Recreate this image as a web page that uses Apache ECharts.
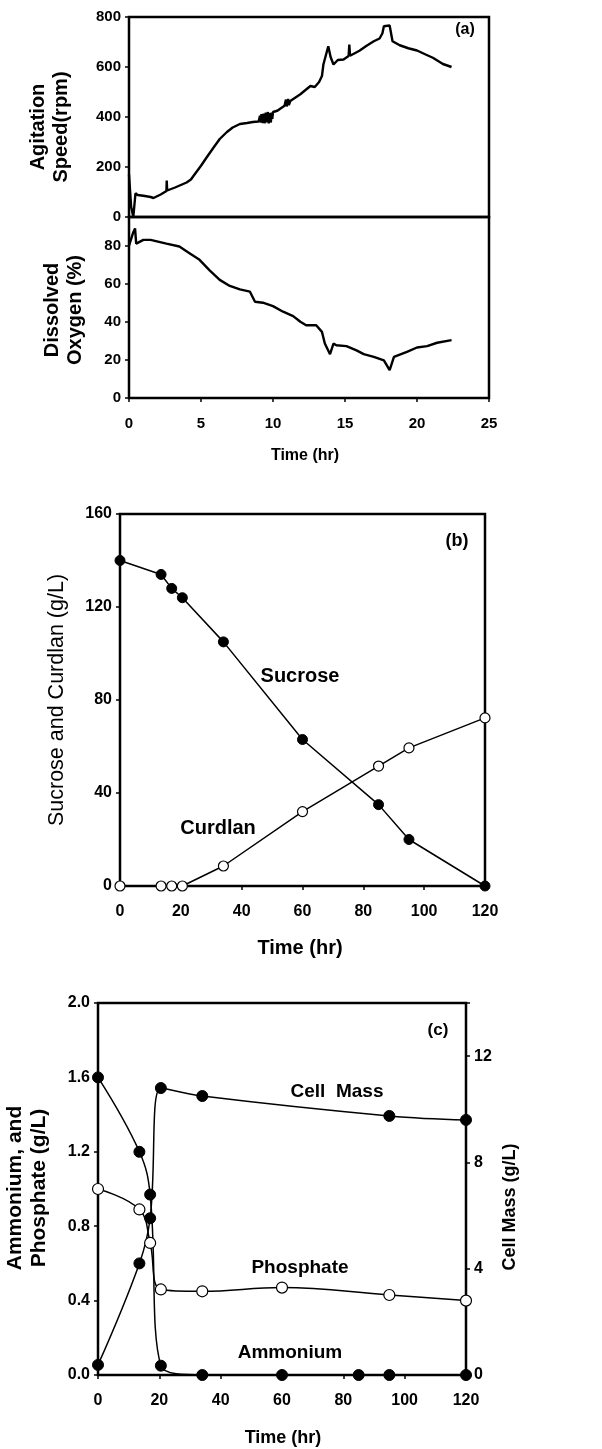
<!DOCTYPE html>
<html>
<head>
<meta charset="utf-8">
<script src="https://cdn.jsdelivr.net/npm/echarts@6/dist/echarts.min.js"></script>
<style>
  html, body { margin: 0; padding: 0; background: #fff; }
  #main { width: 602px; height: 1449px; }
</style>
</head>
<body>
<div id="main"></div>
<script>
// ---- panel (a): agitation speed and dissolved oxygen traces ----
var agiTime = [0, 0.15, 0.3, 0.4, 0.45, 0.6, 1.0, 1.5, 1.7, 2.2, 2.6, 2.62, 2.65, 3.2, 4.0, 4.3, 4.5, 5.0, 5.4, 5.9,
  6.3, 6.8, 7.2, 7.7, 8.2, 8.6, 9.0, 9.1, 9.15, 9.2, 9.3, 9.35, 9.45, 9.5, 9.55, 9.65, 9.7, 9.75, 9.85, 9.9,
  9.95, 10.0, 10.3, 10.8, 10.9, 10.95, 11.05, 11.1, 11.2, 11.9,
  12.3, 12.6, 12.9, 13.2, 13.4, 13.5, 13.84, 14.0, 14.2, 14.5, 14.9, 15.25, 15.3, 15.35, 16.0, 16.5, 17.0, 17.4,
  17.6, 17.7, 18.1, 18.3, 18.8, 19.4, 20.0, 20.6, 21.1, 21.8, 22.4];
var agiRpm = [170, 40, 0, 0, 95, 88, 85, 80, 76, 90, 104, 146, 106, 118, 138, 150, 166, 205, 239, 280,
  312, 340, 358, 372, 376, 380, 382, 405, 378, 412, 376, 414, 375, 418, 380, 420, 374, 416, 378, 418,
  392, 420, 425, 445, 470, 442, 472, 448, 464, 491,
  510, 524, 520, 540, 564, 610, 683, 640, 610, 628, 630, 644, 690, 645, 665, 685, 703, 714,
  735, 763, 766, 703, 687, 675, 666, 650, 637, 612, 600];

var doTime = [0, 0.05, 0.3, 0.42, 0.5, 1.0, 1.5, 2.6, 3.5, 4.2, 4.9, 5.6, 6.3, 7.0, 7.7, 8.4, 8.75, 9.3, 10.0,
  10.7, 11.4, 11.9, 12.3, 13.0, 13.4, 13.6, 13.96, 14.2, 14.4, 15.1, 15.8, 16.3, 17.0, 17.7, 18.1, 18.4,
  19.3, 20.0, 20.7, 21.4, 22.4];
var doPct = [80, 80, 87, 89, 81, 83, 83, 81, 79.5, 76, 72.5, 67, 62, 58.8, 57, 55.8, 50.5, 50, 48.2,
  45.3, 43, 40, 38.2, 38.2, 34.7, 28.6, 23, 28.6, 27.7, 27.2, 25, 23, 21.6, 19.8, 14.6, 21.6,
  24.2, 26.5, 27.2, 29, 30.4];

// ---- panel (b): sucrose and curdlan ----
var timeB = [0, 13.5, 17, 20.5, 34, 60, 85, 95, 120];
var sucrose = [140, 134, 128, 124, 105, 63, 35, 20, 0];
var curdlan = [0, 0, 0, 0, 8.6, 32, 51.6, 59.4, 72.3];

// ---- panel (c): ammonium, phosphate, cell mass ----
var timeAmm = [0, 13.5, 17, 20.5, 34, 60, 85, 95, 120];
var ammonium = [1.6, 1.2, 0.97, 0.05, 0, 0, 0, 0, 0];
var timePho = [0, 13.5, 17, 20.5, 34, 60, 95, 120];
var phosphate = [1.0, 0.89, 0.71, 0.46, 0.45, 0.47, 0.43, 0.40];
var timeCell = [0, 13.5, 17, 20.5, 34, 95, 120];
var cellMass = [0.38, 4.2, 5.9, 10.8, 10.5, 9.75, 9.6];

function pairs(xs, ys) {
  var out = [];
  for (var i = 0; i < xs.length; i++) out.push([xs[i], ys[i]]);
  return out;
}

var FONT = '"Liberation Sans", Arial, sans-serif';
var tick = { show: true, length: 4, lineStyle: { color: '#000', width: 1.5 } };
function lbl(size, margin, fmt) {
  var o = { color: '#000', fontFamily: FONT, fontWeight: 'bold', fontSize: size, margin: margin };
  if (fmt) o.formatter = fmt;
  return o;
}
function txt(x, y, text, size, weight, rot) {
  return {
    type: 'text', x: x, y: y, rotation: rot || 0,
    style: {
      text: text, fill: '#000',
      font: (weight || 'bold') + ' ' + size + 'px ' + FONT,
      textAlign: 'center', textVerticalAlign: 'middle',
      align: 'center', verticalAlign: 'middle', lineHeight: size + 3
    }
  };
}
var frame = { show: true, borderColor: '#000', borderWidth: 2.5, backgroundColor: 'transparent' };
var filled = { color: '#000', borderColor: '#000', borderWidth: 1 };
var open = { color: '#fff', borderColor: '#000', borderWidth: 1.2 };
var R = Math.PI / 2;

var chart = echarts.init(document.getElementById('main'), null, { renderer: 'canvas' });

var option = {
  backgroundColor: '#fff',
  animation: false,
  grid: [
    Object.assign({ left: 129, top: 17, width: 360, height: 200 }, frame),
    Object.assign({ left: 129, top: 217, width: 360, height: 181 }, frame),
    Object.assign({ left: 120, top: 514, width: 365, height: 372 }, frame),
    Object.assign({ left: 98, top: 1003, width: 368, height: 372 }, frame)
  ],
  xAxis: [
    { gridIndex: 0, type: 'value', min: 0, max: 25, interval: 5, axisLine: { show: false },
      axisTick: { show: false }, axisLabel: { show: false }, splitLine: { show: false } },
    { gridIndex: 1, type: 'value', min: 0, max: 25, interval: 5, axisLine: { show: false },
      axisTick: tick, axisLabel: lbl(15, 18), splitLine: { show: false } },
    { gridIndex: 2, type: 'value', min: 0, max: 120, interval: 20, axisLine: { show: false },
      axisTick: tick, axisLabel: lbl(16, 18), splitLine: { show: false } },
    { gridIndex: 3, type: 'value', min: 0, max: 120, interval: 20, axisLine: { show: false },
      axisTick: tick, axisLabel: lbl(16, 18), splitLine: { show: false } }
  ],
  yAxis: [
    { gridIndex: 0, type: 'value', min: 0, max: 800, interval: 200, axisLine: { show: false },
      axisTick: tick, axisLabel: lbl(15, 8), splitLine: { show: false } },
    { gridIndex: 1, type: 'value', min: 0, max: 95, interval: 20, axisLine: { show: false },
      axisTick: tick, splitLine: { show: false },
      axisLabel: lbl(15, 8, function (v) { return v % 20 === 0 ? String(v) : ''; }) },
    { gridIndex: 2, type: 'value', min: 0, max: 160, interval: 40, axisLine: { show: false },
      axisTick: tick, axisLabel: lbl(16, 8), splitLine: { show: false } },
    { gridIndex: 3, type: 'value', min: 0, max: 2, interval: 0.4, axisLine: { show: false },
      axisTick: tick, splitLine: { show: false },
      axisLabel: lbl(16, 8, function (v) { return v.toFixed(1); }) },
    { gridIndex: 3, type: 'value', position: 'right', min: 0, max: 14, interval: 4, axisLine: { show: false },
      axisTick: tick, splitLine: { show: false },
      axisLabel: lbl(16, 8, function (v) { return v % 4 === 0 ? String(v) : ''; }) }
  ],
  series: [
    { name: 'Agitation', type: 'line', xAxisIndex: 0, yAxisIndex: 0, data: pairs(agiTime, agiRpm),
      showSymbol: false, lineStyle: { color: '#000', width: 2.4 } },
    { name: 'DO', type: 'line', xAxisIndex: 1, yAxisIndex: 1, data: pairs(doTime, doPct),
      showSymbol: false, lineStyle: { color: '#000', width: 2.4 } },
    { name: 'Sucrose', type: 'line', xAxisIndex: 2, yAxisIndex: 2, data: pairs(timeB, sucrose),
      symbol: 'circle', symbolSize: 10, itemStyle: filled, lineStyle: { color: '#000', width: 1.5 } },
    { name: 'Curdlan', type: 'line', xAxisIndex: 2, yAxisIndex: 2, data: pairs(timeB, curdlan),
      symbol: 'circle', symbolSize: 10, itemStyle: open, lineStyle: { color: '#000', width: 1.5 } },
    { name: 'Ammonium', type: 'line', xAxisIndex: 3, yAxisIndex: 3, data: pairs(timeAmm, ammonium),
      smooth: 0.4, symbol: 'circle', symbolSize: 11, itemStyle: filled, lineStyle: { color: '#000', width: 1.5 } },
    { name: 'Phosphate', type: 'line', xAxisIndex: 3, yAxisIndex: 3, data: pairs(timePho, phosphate),
      smooth: 0.4, symbol: 'circle', symbolSize: 11, itemStyle: open, lineStyle: { color: '#000', width: 1.5 } },
    { name: 'Cell Mass', type: 'line', xAxisIndex: 3, yAxisIndex: 4, data: pairs(timeCell, cellMass),
      smooth: 0.4, symbol: 'circle', symbolSize: 11, itemStyle: filled, lineStyle: { color: '#000', width: 1.5 } }
  ],
  graphic: [
    // panel (a)
    txt(50, 127, 'Agitation\nSpeed(rpm)', 20, 'bold', R),
    txt(64, 310, 'Dissolved\nOxygen (%)', 20, 'bold', R),
    txt(465, 30, '(a)', 16),
    txt(305, 456, 'Time (hr)', 16),
    // panel (b)
    txt(57, 700, 'Sucrose and Curdlan (g/L)', 21.5, 'normal', R),
    txt(457, 541, '(b)', 18),
    txt(300, 676, 'Sucrose', 20),
    txt(218, 828, 'Curdlan', 20),
    txt(300, 948, 'Time (hr)', 20),
    // panel (c)
    txt(27, 1188, 'Ammonium, and\nPhosphate (g/L)', 21, 'bold', R),
    txt(510, 1207, 'Cell Mass (g/L)', 18, 'bold', R),
    txt(438, 1030, '(c)', 17),
    txt(337, 1092, 'Cell  Mass', 19),
    txt(300, 1268, 'Phosphate', 19),
    txt(290, 1353, 'Ammonium', 19),
    txt(283, 1438, 'Time (hr)', 18)
  ]
};
chart.setOption(option);
</script>
</body>
</html>
